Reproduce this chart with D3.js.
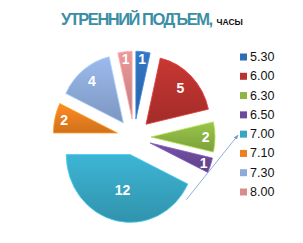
<!DOCTYPE html>
<html lang="ru">
<head>
  <meta charset="utf-8">
  <title>Утренний подъем</title>
  <style>
    body { margin: 0; background: #fff; }
    svg { display: block; }
  </style>
</head>
<body>
  <script src="https://cdn.jsdelivr.net/npm/d3@7"></script>
  <script>
    var w = 303
    var h = 243

    // data
    var times = ["5.30", "6.00", "6.30", "6.50", "7.00", "7.10", "7.30", "8.00"];
    var counts = [1, 5, 2, 1, 12, 2, 4, 1];
    var colors = ["#2f6db5", "#b8322f", "#8cb543", "#6b4a9a", "#38a6c3", "#ea801f", "#8eaad9", "#d98c8c"];

    var svg = d3.select("body")
      .append("svg")
      .attr("width", w)
      .attr("height", h);

    var defs = svg.append("defs");
    colors.forEach(function (c, i) {
      var g = defs.append("linearGradient")
        .attr("id", "g" + i)
        .attr("x1", 0).attr("y1", 0).attr("x2", 0).attr("y2", 1);
      g.append("stop").attr("offset", "0%").attr("stop-color", d3.color(c).brighter(0.25));
      g.append("stop").attr("offset", "100%").attr("stop-color", d3.color(c).darker(0.35));
    });

    // title
    var title = svg.append("text")
      .attr("x", 61)
      .attr("y", 25)
      .style("font-family", "Liberation Sans, Arial, sans-serif")
      .style("font-weight", "bold");
    title.append("tspan")
      .attr("fill", "#3b8ea5")
      .style("font-size", "16.5px")
      .attr("textLength", 152)
      .text("УТРЕННИЙ ПОДЪЕМ,");
    title.append("tspan")
      .attr("fill", "#111")
      .attr("dx", 5)
      .style("font-size", "8.5px")
      .text("ЧАСЫ");

    // pie
    var cx = 134, cy = 137, r = 64, ky = 1.06, explode = 17;
    var total = d3.sum(counts);

    var pie = d3.pie().sort(null).value(function (d) { return d; });
    var arcs = pie(counts);
    var arc = d3.arc().innerRadius(0).outerRadius(r);

    function dirOf(a) {
      return [Math.sin(a), -Math.cos(a)];
    }

    var slices = svg.append("g").selectAll("g")
      .data(arcs)
      .enter()
      .append("g")
      .attr("transform", function (d) {
        var m = (d.startAngle + d.endAngle) / 2;
        var v = dirOf(m);
        return "translate(" + (cx + v[0] * explode) + "," + (cy + v[1] * explode * ky) + ")";
      });

    slices.append("path")
      .attr("transform", "scale(1," + ky + ")")
      .attr("d", arc)
      .attr("fill", function (d, i) { return "url(#g" + i + ")"; })
      .attr("stroke", function (d, i) { return d3.color(colors[i]).brighter(0.6); })
      .attr("stroke-width", 0.8);

    // labels sit further out on thin slices, nearer the tip on big ones
    function labelPos(d) {
      var m = (d.startAngle + d.endAngle) / 2;
      var k = 0.92 - 0.9 * d.value / total;
      var v = dirOf(m);
      return [v[0] * r * k, v[1] * r * k * ky];
    }

    slices.append("text")
      .attr("x", function (d) { return labelPos(d)[0]; })
      .attr("y", function (d) { return labelPos(d)[1]; })
      .attr("text-anchor", "middle")
      .attr("dominant-baseline", "central")
      .attr("fill", "#fff")
      .style("font-family", "Liberation Sans, Arial, sans-serif")
      .style("font-weight", "bold")
      .style("font-size", "14px")
      .text(function (d) { return d.value; });

    // legend
    var legendY = d3.scalePoint().domain(times).range([57, 192]);
    var legend = svg.append("g").selectAll("g")
      .data(times)
      .enter()
      .append("g")
      .attr("transform", function (d) { return "translate(240," + legendY(d) + ")"; });

    legend.append("rect")
      .attr("x", 0).attr("y", -3.5)
      .attr("width", 7).attr("height", 7)
      .attr("fill", function (d, i) { return colors[i]; });

    legend.append("text")
      .attr("x", 10)
      .attr("y", 0)
      .attr("dominant-baseline", "central")
      .attr("fill", "#111")
      .style("font-family", "Liberation Sans, Arial, sans-serif")
      .style("font-size", "12.5px")
      .text(function (d) { return d; });

    // leader arrow from the 12 slice to its legend entry
    defs.append("marker")
      .attr("id", "arrow")
      .attr("viewBox", "0 0 10 10")
      .attr("refX", 9).attr("refY", 5)
      .attr("markerWidth", 6).attr("markerHeight", 6)
      .attr("orient", "auto")
      .append("path")
      .attr("d", "M0,1 L10,5 L0,9 Z")
      .attr("fill", "#6f9ad0");

    var big = arcs[times.indexOf("7.00")];
    var bm = dirOf((big.startAngle + big.endAngle) / 2);
    var ba = big.startAngle + 0.2;
    var sx = cx + bm[0] * explode + Math.sin(ba) * r * 1.1;
    var sy = cy + bm[1] * explode * ky - Math.cos(ba) * r * 1.1 * ky;

    svg.append("line")
      .attr("x1", sx).attr("y1", sy)
      .attr("x2", 238).attr("y2", legendY("7.00") + 1)
      .attr("stroke", "#6f9ad0")
      .attr("stroke-width", 0.8)
      .attr("marker-end", "url(#arrow)");
  </script>
</body>
</html>
